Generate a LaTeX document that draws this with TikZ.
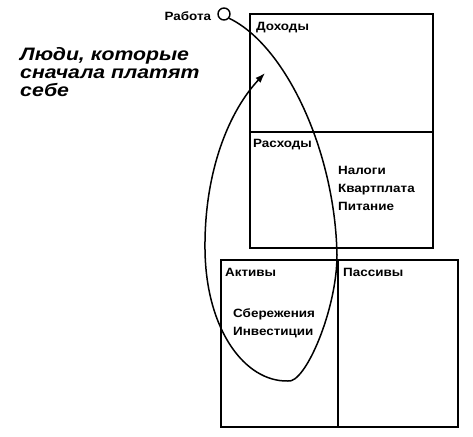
\documentclass[tikz,border=0pt]{standalone}
\usepackage{fontspec}
\setmainfont{Liberation Sans}
\newfontfamily\wideface[FakeStretch=1.12]{Liberation Sans}
\newfontfamily\headface[FakeStretch=1.18]{Liberation Sans}
\usetikzlibrary{positioning,arrows.meta}

\begin{document}
\begin{tikzpicture}[x=1pt,y=-1pt,
  box/.style={draw, line width=1.6pt, anchor=north west, inner sep=0pt},
  lbl/.style={inner sep=0pt, font=\wideface\bfseries\fontsize{12}{18}\selectfont, align=left},
  head/.style={inner sep=0pt, font=\headface\bfseries\itshape\fontsize{18}{18}\selectfont, align=left},
  loopline/.style={line width=1.5pt, -{Latex[length=10pt,width=7pt]}}]
\useasboundingbox (0,0) rectangle (473,436);
% statement
\node[box, minimum width=183pt, minimum height=118pt] (income) at (249,13) {};
\node[box, minimum width=183pt, minimum height=116pt] (expense) at (249,131) {};
% balance sheet
\node[box, minimum width=117pt, minimum height=167pt] (assets) at (220,259) {};
\node[box, minimum width=120pt, minimum height=167pt] (liabilities) at (337,259) {};
\node[lbl, below right=9pt and 7pt of income.north west] (incomelbl) {Доходы};
\node[lbl, below right=8pt and 4pt of expense.north west] (expenselbl) {Расходы};
\node[lbl, below right=35pt and 89pt of expense.north west] (costs) {Налоги\\Квартплата\\Питание};
\node[lbl, below right=9pt and 5pt of assets.north west] (assetslbl) {Активы};
\node[lbl, below right=49pt and 13pt of assets.north west] (savings) {Сбережения\\Инвестиции};
\node[lbl, below right=9pt and 6pt of liabilities.north west] (liabilitieslbl) {Пассивы};
% job
\node[draw, circle, line width=1.4pt, minimum size=12pt, inner sep=0pt] (work) at (224,14) {};
\node[lbl, left=6pt of work, yshift=-2pt] (worklbl) {Работа};
\node[head, anchor=north west] (people) at (20,47) {Люди, которые\\сначала платят\\себе};
% money flow
\coordinate (loopend) at (265,73);
\draw[loopline] (work.-40) .. controls (285,45) and (335,150) .. (337,255)
  .. controls (337,310) and (305,384) .. (288,381)
  .. controls (245,382) and (206,330) .. (205,250)
  .. controls (204,170) and (230,110) .. (loopend);
\end{tikzpicture}
\end{document}
